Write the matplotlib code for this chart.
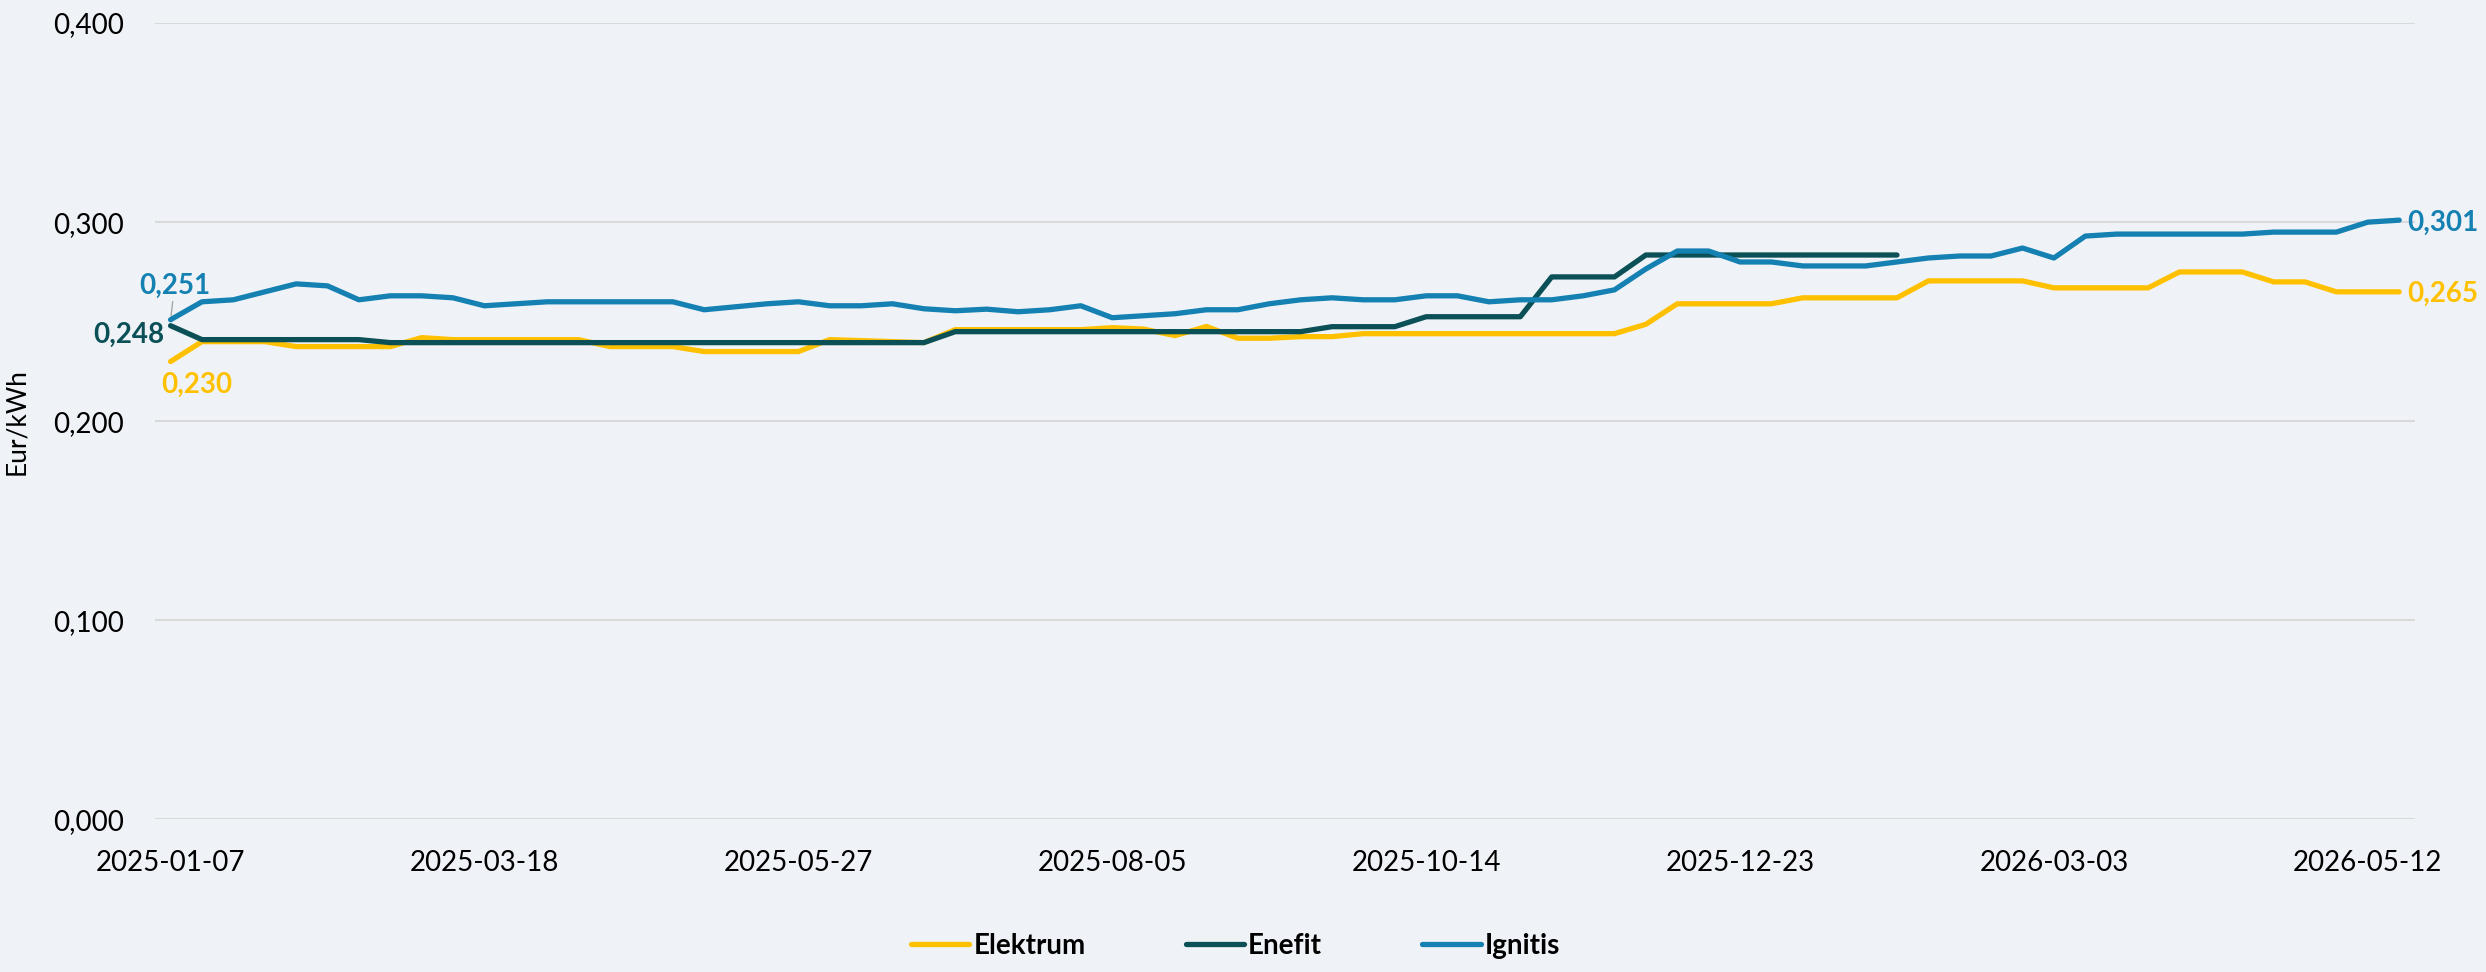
import matplotlib
matplotlib.use("Agg")
from matplotlib import pyplot as plt
import numpy as np
import pandas as pd

# weekly prices, Eur/kWh
dates = pd.date_range("2025-01-07", periods=72, freq="7D")

elektrum = [0.230, 0.240, 0.240, 0.240, 0.2375, 0.2375, 0.2375, 0.2375, 0.242, 0.241, 0.241, 0.241,
            0.241, 0.241, 0.2375, 0.2375, 0.2375, 0.235, 0.235, 0.235, 0.235, 0.241, 0.2405, 0.240,
            0.2395, 0.246, 0.246, 0.246, 0.246, 0.246, 0.247, 0.2463, 0.243, 0.2476, 0.2417, 0.2417,
            0.2425, 0.2425, 0.244, 0.244, 0.244, 0.244, 0.244, 0.244, 0.244, 0.244, 0.244, 0.2487,
            0.259, 0.259, 0.259, 0.259, 0.262, 0.262, 0.262, 0.262, 0.2705, 0.2705, 0.2705, 0.2705,
            0.267, 0.267, 0.267, 0.267, 0.275, 0.275, 0.275, 0.270, 0.270, 0.265, 0.265, 0.265]

enefit = ([0.248] + [0.241] * 6 + [0.2395] * 18 + [0.245] * 12 + [0.2475] * 3
          + [0.2525] * 4 + [0.2725] * 3 + [0.2835] * 9 + [np.nan] * 16)

ignitis = [0.251, 0.260, 0.261, 0.265, 0.269, 0.268, 0.261, 0.263, 0.263, 0.262, 0.258, 0.259,
           0.260, 0.260, 0.260, 0.260, 0.260, 0.256, 0.2575, 0.259, 0.260, 0.258, 0.258, 0.259,
           0.2565, 0.2555, 0.2563, 0.255, 0.256, 0.258, 0.252, 0.253, 0.254, 0.256, 0.256, 0.259,
           0.261, 0.262, 0.261, 0.261, 0.263, 0.263, 0.260, 0.261, 0.261, 0.263, 0.266, 0.2765,
           0.2855, 0.2855, 0.280, 0.280, 0.278, 0.278, 0.278, 0.280, 0.282, 0.283, 0.283, 0.287,
           0.282, 0.293, 0.294, 0.294, 0.294, 0.294, 0.294, 0.295, 0.295, 0.295, 0.300, 0.301]

series = [("Elektrum", elektrum, "#FFC000"),
          ("Enefit", enefit, "#0A5056"),
          ("Ignitis", ignitis, "#1580B2")]

yticks = [0.0, 0.1, 0.2, 0.3, 0.4]

bg = "#EFF3F7"
plt.rcParams["font.family"] = ["Lato", "DejaVu Sans"]

fig = plt.figure(figsize=(24.86, 9.72), dpi=100, facecolor=bg)
ax = fig.add_axes([0.0623, 0.1569, 0.9091, 0.8194], facecolor=bg)

x = np.arange(len(dates))
for name, vals, col in series:
    ax.plot(x, vals, color=col, lw=3.8, label=name, solid_capstyle="round")

def fmt(v):
    return f"{v:.3f}".replace(".", ",")

# first / last point labels
ax.annotate(fmt(ignitis[0]), (0, ignitis[0]), xytext=(4, 34), textcoords="offset pixels",
            ha="center", va="center", color="#1580B2", fontsize=20, fontweight="bold",
            arrowprops=dict(arrowstyle="-", color="#A6A6A6", lw=1, shrinkA=14, shrinkB=3))
ax.annotate(fmt(enefit[0]), (0, enefit[0]), xytext=(-6, -9), textcoords="offset pixels",
            ha="right", va="center", color="#0A5056", fontsize=20, fontweight="bold")
ax.annotate(fmt(elektrum[0]), (0, elektrum[0]), xytext=(-9, -23), textcoords="offset pixels",
            ha="left", va="center", color="#FFC000", fontsize=20, fontweight="bold")
last = len(dates) - 1
ax.annotate(fmt(ignitis[-1]), (last, ignitis[-1]), xytext=(8, -3), textcoords="offset pixels",
            ha="left", va="center", color="#1580B2", fontsize=20, fontweight="bold")
ax.annotate(fmt(elektrum[-1]), (last, elektrum[-1]), xytext=(8, -2), textcoords="offset pixels",
            ha="left", va="center", color="#FFC000", fontsize=20, fontweight="bold")

ax.set_xlim(-0.5, len(dates) - 0.5)
ax.set_ylim(0, 0.4)
ax.set_yticks(yticks)
ax.set_yticklabels([fmt(v) for v in yticks])
ax.set_xticks(x[::10])
ax.set_xticklabels([d.strftime("%Y-%m-%d") for d in dates[::10]])
ax.tick_params(axis="both", length=0, labelsize=20, colors="black")
ax.tick_params(axis="y", pad=22)
ax.tick_params(axis="x", pad=22)
ax.grid(axis="y", color="#D9D9D9", lw=1.5)
ax.set_axisbelow(True)
for s in ax.spines.values():
    s.set_visible(False)

ax.set_ylabel("Eur/kWh", fontsize=19)
ax.yaxis.set_label_coords(-0.0555, 0.5)

leg = fig.legend(loc="lower center", bbox_to_anchor=(0.497, -0.012), ncol=3, frameon=False,
                 prop={"size": 20, "weight": "bold"}, handlelength=2.1, handletextpad=0.15,
                 columnspacing=3.6)

fig.savefig("out.png", dpi=100, facecolor=bg)
